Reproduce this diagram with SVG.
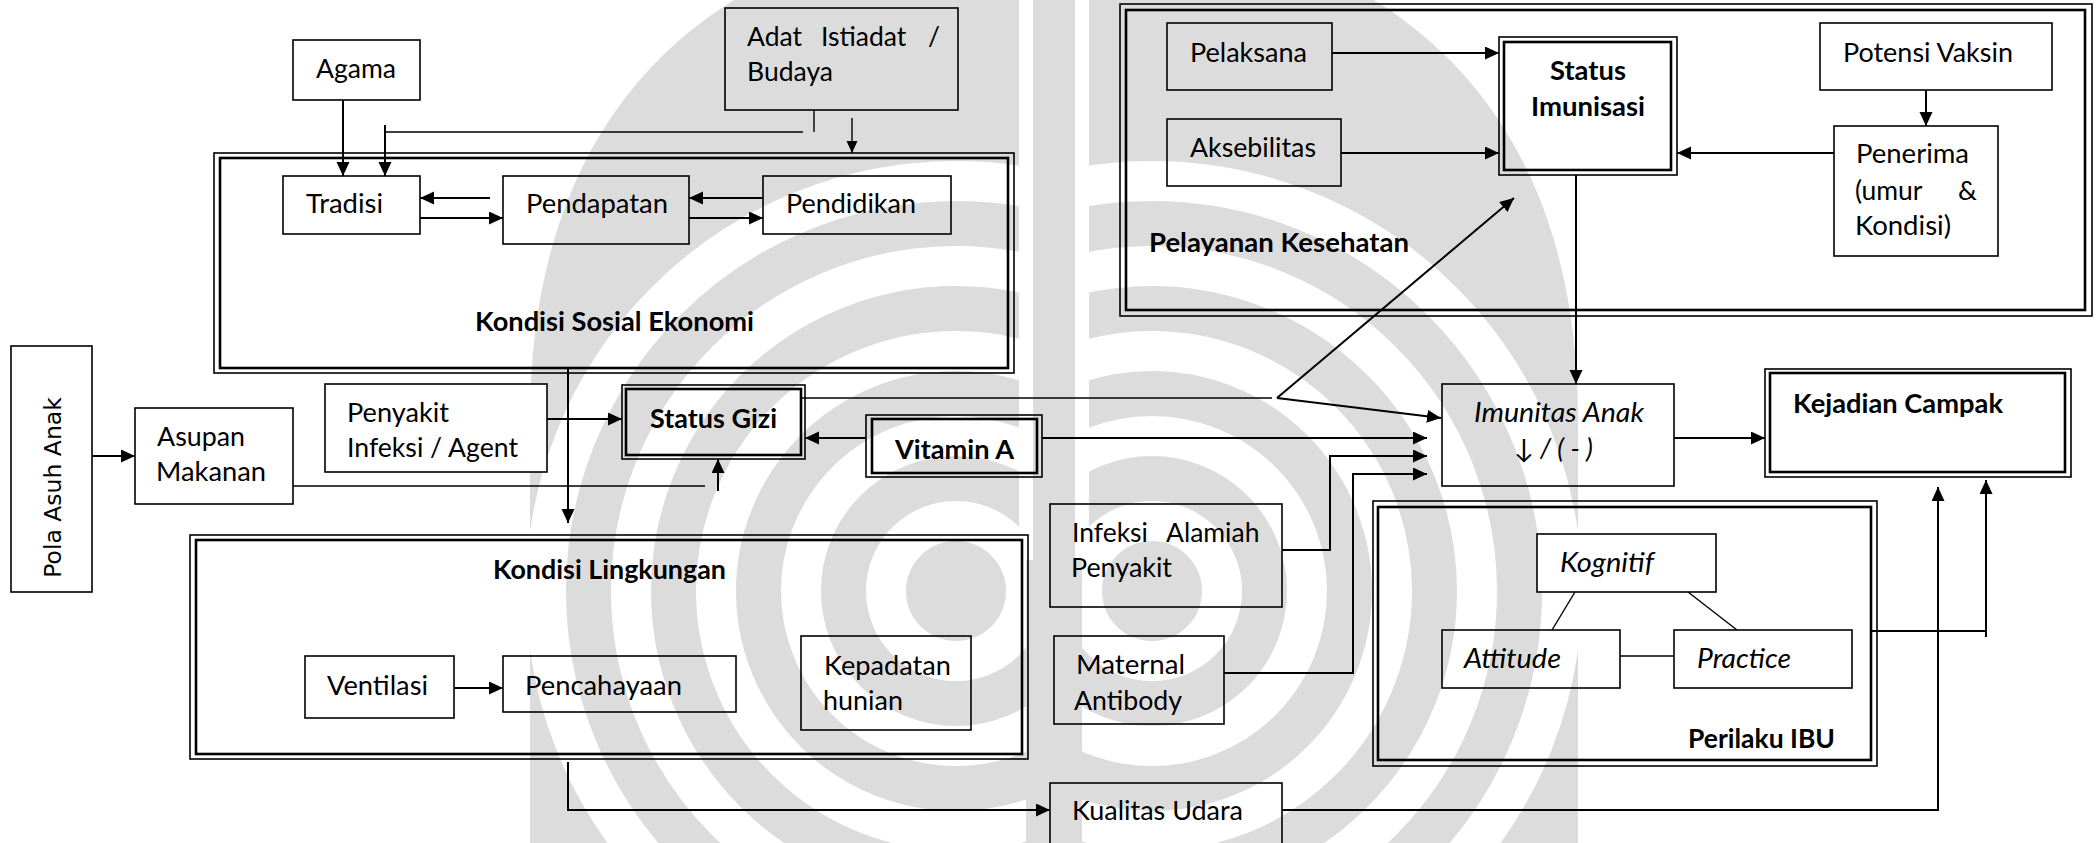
<svg xmlns="http://www.w3.org/2000/svg" width="2100" height="843" viewBox="0 0 2100 843">
  <defs>
    <marker id="arrow" markerUnits="userSpaceOnUse" markerWidth="15" markerHeight="14" refX="14" refY="6.5" orient="auto">
      <path d="M0,0 L14,6.5 L0,13 z" fill="#000"/>
    </marker>
    <marker id="arrow-sm" markerUnits="userSpaceOnUse" markerWidth="13" markerHeight="12" refX="12" refY="5.5" orient="auto">
      <path d="M0,0 L12,5.5 L0,11 z" fill="#000"/>
    </marker>
    <clipPath id="half-left"><rect x="0" y="-100" width="1026" height="1000"/></clipPath>
    <clipPath id="half-right"><rect x="1082" y="-100" width="1100" height="1000"/></clipPath>
    <clipPath id="dome">
      <path d="M530,843 V420 C530,60 770,-80 1054,-80 C1338,-80 1578,60 1578,420 V843 Z"/>
    </clipPath>
  </defs>
  <style>
    .box { fill: #fff; stroke: #000; stroke-width: 1.6; }
    .open { fill: none; }
    .frame-out { fill: none; stroke: #000; stroke-width: 1.6; }
    .frame-in { fill: none; stroke: #000; stroke-width: 2.6; }
    .t { font-family: Lato, "Liberation Sans", sans-serif; font-size: 26.5px; fill: #000; }
    .b { font-weight: bold; }
    .i { font-style: italic; }
    .v { font-family: "DejaVu Sans", Verdana, sans-serif; font-size: 23.5px; fill: #000; }
    .c { fill: none; stroke: #000; stroke-width: 2; }
    .thin { fill: none; stroke: #000; stroke-width: 1.4; }
    .arr { marker-end: url(#arrow); }
    .arr-sm { marker-end: url(#arrow-sm); }
    .wm { fill: #dcdcdc; }
    .wm-gap { fill: none; stroke: #fff; stroke-width: 40; }
  </style>

  <rect width="2100" height="843" fill="#fff"/>

  <!-- background emblem, light grey -->
  <g id="emblem" clip-path="url(#dome)">
    <rect class="wm" x="500" y="-100" width="1100" height="960"/>
    <g clip-path="url(#half-left)">
      <circle class="wm-gap" cx="956" cy="591" r="70"/>
      <circle class="wm-gap" cx="956" cy="591" r="155"/>
      <circle class="wm-gap" cx="956" cy="591" r="240"/>
      <circle class="wm-gap" cx="956" cy="591" r="325"/>
      <circle class="wm-gap" cx="956" cy="591" r="410"/>
    </g>
    <g clip-path="url(#half-right)">
      <circle class="wm-gap" cx="1152" cy="591" r="70"/>
      <circle class="wm-gap" cx="1152" cy="591" r="155"/>
      <circle class="wm-gap" cx="1152" cy="591" r="240"/>
      <circle class="wm-gap" cx="1152" cy="591" r="325"/>
      <circle class="wm-gap" cx="1152" cy="591" r="410"/>
    </g>
    <path d="M1026,-20 V560 M1082,-20 V560" stroke="#fff" stroke-width="14"/>
    <circle cx="956" cy="591" r="22" class="wm"/>
    <circle cx="1152" cy="591" r="22" class="wm"/>
  </g>

  <!-- grouping frames -->
  <g id="kondisi-sosial-ekonomi">
    <rect class="frame-out" x="214" y="153" width="800" height="220"/>
    <rect class="frame-in" x="220" y="158" width="788" height="210"/>
    <text class="t b" x="475" y="331" textLength="279" lengthAdjust="spacingAndGlyphs">Kondisi Sosial Ekonomi</text>
  </g>
  <g id="pelayanan-kesehatan">
    <rect class="frame-out" x="1120" y="4" width="972" height="312"/>
    <rect class="frame-in" x="1126" y="10" width="959" height="300"/>
    <text class="t b" x="1149" y="252" textLength="260" lengthAdjust="spacingAndGlyphs">Pelayanan Kesehatan</text>
  </g>
  <g id="kondisi-lingkungan">
    <rect class="frame-out" x="190" y="535" width="838" height="224"/>
    <rect class="frame-in" x="196" y="540" width="826" height="214"/>
    <text class="t b" x="493" y="579" textLength="233" lengthAdjust="spacingAndGlyphs">Kondisi Lingkungan</text>
  </g>
  <g id="perilaku-ibu">
    <rect class="frame-out" x="1373" y="501" width="504" height="265"/>
    <rect class="frame-in" x="1378" y="507" width="493" height="253"/>
    <text class="t b" x="1688" y="748" textLength="147" lengthAdjust="spacingAndGlyphs">Perilaku IBU</text>
  </g>

  <!-- nodes -->
  <g id="agama">
    <rect class="box" x="293" y="40" width="127" height="60"/>
    <text class="t" x="316" y="78" textLength="80" lengthAdjust="spacingAndGlyphs">Agama</text>
  </g>
  <g id="adat-istiadat">
    <rect class="box open" x="725" y="8" width="233" height="102"/>
    <text class="t" y="46"><tspan x="747">Adat</tspan><tspan x="821">Istiadat</tspan><tspan x="928">/</tspan></text>
    <text class="t" x="747" y="81" textLength="86" lengthAdjust="spacingAndGlyphs">Budaya</text>
  </g>
  <g id="tradisi">
    <rect class="box" x="283" y="176" width="137" height="58"/>
    <text class="t" x="306" y="213" textLength="77" lengthAdjust="spacingAndGlyphs">Tradisi</text>
  </g>
  <g id="pendapatan">
    <rect class="box open" x="503" y="176" width="186" height="68"/>
    <text class="t" x="526" y="213" textLength="142" lengthAdjust="spacingAndGlyphs">Pendapatan</text>
  </g>
  <g id="pendidikan">
    <rect class="box open" x="763" y="176" width="188" height="58"/>
    <text class="t" x="786" y="213" textLength="130" lengthAdjust="spacingAndGlyphs">Pendidikan</text>
  </g>
  <g id="pelaksana">
    <rect class="box open" x="1167" y="23" width="165" height="67"/>
    <text class="t" x="1190" y="62" textLength="117" lengthAdjust="spacingAndGlyphs">Pelaksana</text>
  </g>
  <g id="aksebilitas">
    <rect class="box open" x="1167" y="119" width="174" height="67"/>
    <text class="t" x="1190" y="157" textLength="126" lengthAdjust="spacingAndGlyphs">Aksebilitas</text>
  </g>
  <g id="status-imunisasi">
    <rect class="frame-out" x="1499" y="37" width="178" height="138"/>
    <rect class="frame-in" x="1504" y="42" width="167" height="128"/>
    <text class="t b" x="1550" y="80" textLength="76" lengthAdjust="spacingAndGlyphs">Status</text>
    <text class="t b" x="1531" y="116" textLength="114" lengthAdjust="spacingAndGlyphs">Imunisasi</text>
  </g>
  <g id="potensi-vaksin">
    <rect class="box" x="1820" y="23" width="232" height="67"/>
    <text class="t" x="1843" y="62" textLength="170" lengthAdjust="spacingAndGlyphs">Potensi Vaksin</text>
  </g>
  <g id="penerima">
    <rect class="box" x="1834" y="126" width="164" height="130"/>
    <text class="t" x="1856" y="163" textLength="113" lengthAdjust="spacingAndGlyphs">Penerima</text>
    <text class="t" y="200"><tspan x="1855">(umur</tspan><tspan x="1958">&amp;</tspan></text>
    <text class="t" x="1855" y="235" textLength="96" lengthAdjust="spacingAndGlyphs">Kondisi)</text>
  </g>
  <g id="pola-asuh-anak">
    <rect class="box" x="11" y="346" width="81" height="246"/>
    <text class="v" transform="translate(61,487.5) rotate(-90)" text-anchor="middle">Pola Asuh Anak</text>
  </g>
  <g id="asupan-makanan">
    <rect class="box" x="135" y="408" width="158" height="96"/>
    <text class="t" x="157" y="446" textLength="88" lengthAdjust="spacingAndGlyphs">Asupan</text>
    <text class="t" x="156" y="481" textLength="110" lengthAdjust="spacingAndGlyphs">Makanan</text>
  </g>
  <g id="penyakit-infeksi">
    <rect class="box" x="325" y="384" width="222" height="88"/>
    <text class="t" x="347" y="422" textLength="102" lengthAdjust="spacingAndGlyphs">Penyakit</text>
    <text class="t" x="347" y="457" textLength="171" lengthAdjust="spacingAndGlyphs">Infeksi / Agent</text>
  </g>
  <g id="status-gizi">
    <rect class="frame-out" x="622" y="385" width="183" height="74"/>
    <rect class="frame-in" x="626" y="389" width="175" height="66"/>
    <text class="t b" x="650" y="428" textLength="127" lengthAdjust="spacingAndGlyphs">Status Gizi</text>
  </g>
  <g id="vitamin-a">
    <rect class="frame-out" x="866" y="415" width="176" height="62"/>
    <rect class="frame-in" x="872" y="419" width="165" height="54"/>
    <text class="t b" x="895" y="459" textLength="119" lengthAdjust="spacingAndGlyphs">Vitamin A</text>
  </g>
  <g id="ventilasi">
    <rect class="box" x="305" y="656" width="149" height="62"/>
    <text class="t" x="327" y="695" textLength="101" lengthAdjust="spacingAndGlyphs">Ventilasi</text>
  </g>
  <g id="pencahayaan">
    <rect class="box open" x="503" y="656" width="233" height="56"/>
    <text class="t" x="525" y="695" textLength="157" lengthAdjust="spacingAndGlyphs">Pencahayaan</text>
  </g>
  <g id="kepadatan-hunian">
    <rect class="box open" x="801" y="636" width="170" height="94"/>
    <text class="t" x="824" y="675" textLength="127" lengthAdjust="spacingAndGlyphs">Kepadatan</text>
    <text class="t" x="823" y="710" textLength="80" lengthAdjust="spacingAndGlyphs">hunian</text>
  </g>
  <g id="infeksi-alamiah">
    <rect class="box open" x="1050" y="504" width="232" height="103"/>
    <text class="t" y="542"><tspan x="1072">Infeksi</tspan><tspan x="1166">Alamiah</tspan></text>
    <text class="t" x="1071" y="577" textLength="101" lengthAdjust="spacingAndGlyphs">Penyakit</text>
  </g>
  <g id="maternal-antibody">
    <rect class="box open" x="1054" y="636" width="170" height="88"/>
    <text class="t" x="1076" y="674" textLength="109" lengthAdjust="spacingAndGlyphs">Maternal</text>
    <text class="t" x="1074" y="710" textLength="108" lengthAdjust="spacingAndGlyphs">Antibody</text>
  </g>
  <g id="kualitas-udara">
    <rect class="box open" x="1050" y="783" width="232" height="80"/>
    <text class="t" x="1072" y="820" textLength="171" lengthAdjust="spacingAndGlyphs">Kualitas Udara</text>
  </g>
  <g id="imunitas-anak">
    <rect class="box open" x="1442" y="384" width="232" height="102"/>
    <text class="t i" x="1474" y="422" textLength="170" lengthAdjust="spacingAndGlyphs">Imunitas Anak</text>
    <text class="t i" x="1514" y="458">↓ / ( - )</text>
  </g>
  <g id="kejadian-campak">
    <rect class="frame-out" x="1765" y="369" width="306" height="108"/>
    <rect class="frame-in" x="1770" y="373" width="295" height="99"/>
    <text class="t b" x="1793" y="413" textLength="210" lengthAdjust="spacingAndGlyphs">Kejadian Campak</text>
  </g>
  <g id="kognitif">
    <rect class="box" x="1537" y="534" width="179" height="58"/>
    <text class="t i" x="1560" y="572" textLength="94" lengthAdjust="spacingAndGlyphs">Kognitif</text>
  </g>
  <g id="attitude">
    <rect class="box open" x="1442" y="630" width="178" height="58"/>
    <text class="t i" x="1464" y="668" textLength="97" lengthAdjust="spacingAndGlyphs">Attitude</text>
  </g>
  <g id="practice">
    <rect class="box" x="1674" y="630" width="178" height="58"/>
    <text class="t i" x="1697" y="668" textLength="94" lengthAdjust="spacingAndGlyphs">Practice</text>
  </g>

  <!-- connectors -->
  <g id="connectors">
    <path class="c arr" d="M343,100 V176"/>
    <path class="thin" d="M814,110 V132"/>
    <path class="thin" d="M803,132 H385"/>
    <path class="c arr" d="M385,125 V176"/>
    <path class="thin arr-sm" d="M852,118 V153"/>
    <path class="c arr" d="M490,198 H420"/>
    <path class="c arr" d="M420,218 H503"/>
    <path class="c arr" d="M763,198 H689"/>
    <path class="c arr" d="M689,218 H763"/>
    <path class="c arr" d="M1332,53 H1499"/>
    <path class="c arr" d="M1341,153 H1499"/>
    <path class="c arr" d="M1926,90 V126"/>
    <path class="c arr" d="M1834,153 H1677"/>
    <path class="c arr" d="M1576,175 V384"/>
    <path class="c arr" d="M92,456 H135"/>
    <path class="c arr" d="M547,419 H622"/>
    <path class="thin" d="M293,486 H705"/>
    <path class="c arr" d="M718,491 V459"/>
    <path class="c arr" d="M568,369 V523"/>
    <path class="c arr" d="M866,438 H805"/>
    <path class="c arr" d="M1042,438 H1427"/>
    <path class="thin" d="M801,398 H1272"/>
    <path class="c arr" d="M1277,398 L1514,198"/>
    <path class="c arr" d="M1277,398 L1441,418"/>
    <path class="c arr" d="M1282,550 H1330 V456 H1427"/>
    <path class="c arr" d="M1224,673 H1353 V474 H1427"/>
    <path class="c arr" d="M454,688 H503"/>
    <path class="c arr" d="M568,762 V810 H1050"/>
    <path class="c arr" d="M1282,810 H1938 V487"/>
    <path class="c arr" d="M1674,438 H1765"/>
    <path class="c" d="M1871,631 H1986"/>
    <path class="c arr" d="M1986,637 V480"/>
    <path class="thin" d="M1575,592 L1552,630"/>
    <path class="thin" d="M1688,592 L1737,630"/>
    <path class="thin" d="M1620,656 H1674"/>
  </g>
</svg>
